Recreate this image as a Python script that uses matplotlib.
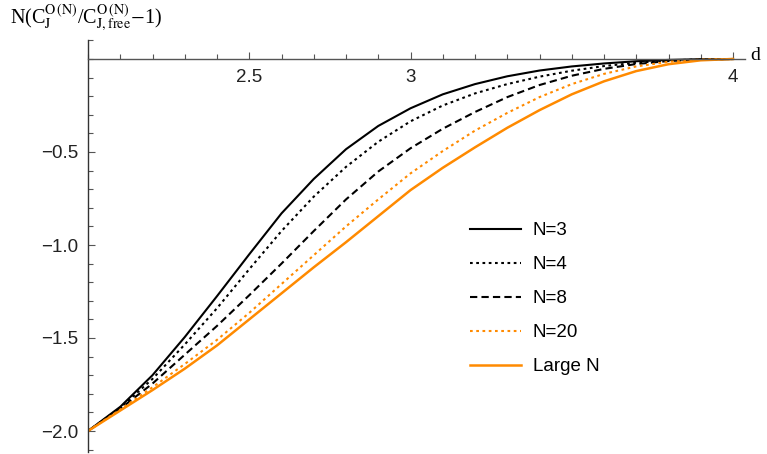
import numpy as np
import matplotlib
matplotlib.use("Agg")
import matplotlib.pyplot as plt
from matplotlib.ticker import MultipleLocator, FixedLocator, FixedFormatter

# values
d = [2.0, 2.1, 2.2, 2.3, 2.4, 2.5, 2.6, 2.7, 2.8, 2.9, 3.0,
     3.1, 3.2, 3.3, 3.4, 3.5, 3.6, 3.7, 3.8, 3.9, 4.0]
n3 = [-2.0, -1.87, -1.70, -1.495, -1.275, -1.05, -0.83, -0.645, -0.485, -0.36, -0.265,
      -0.19, -0.135, -0.093, -0.062, -0.04, -0.024, -0.012, -0.005, -0.001, 0.0]
n4 = [-2.0, -1.875, -1.72, -1.535, -1.34, -1.13, -0.925, -0.74, -0.58, -0.445, -0.335,
      -0.25, -0.185, -0.135, -0.095, -0.063, -0.038, -0.02, -0.008, -0.002, 0.0]
n8 = [-2.0, -1.88, -1.745, -1.59, -1.435, -1.27, -1.10, -0.925, -0.755, -0.605, -0.48,
      -0.375, -0.285, -0.205, -0.14, -0.09, -0.053, -0.027, -0.011, -0.003, 0.0]
n20 = [-2.0, -1.885, -1.765, -1.64, -1.51, -1.365, -1.21, -1.055, -0.90, -0.755, -0.615,
       -0.495, -0.385, -0.29, -0.205, -0.135, -0.08, -0.04, -0.015, -0.003, 0.0]
large = [-2.0, -1.89, -1.78, -1.665, -1.54, -1.40, -1.26, -1.12, -0.985, -0.845, -0.705,
         -0.585, -0.475, -0.37, -0.275, -0.19, -0.12, -0.065, -0.028, -0.007, 0.0]

labels = ["N=3", "N=4", "N=8", "N=20", "Large N"]
xticks = [2.5, 3.0, 4.0]
xtick_labels = ["2.5", "3", "4"]
yticks = [-2.0, -1.5, -1.0, -0.5]
ytick_labels = ["\u22122.0", "\u22121.5", "\u22121.0", "\u22120.5"]

orange = "#FF8A00"
plt.rcParams['font.family'] = ['Liberation Sans', 'DejaVu Sans']
plt.rcParams['mathtext.fontset'] = 'stix'

fig = plt.figure(figsize=(7.67, 4.54), dpi=100)
ax = fig.add_axes([88/767, 1 - 452/454, (745 - 88)/767, (452 - 40)/454])

ax.plot(d, n3, color='black', lw=1.5, label=labels[0])
ax.plot(d, n4, color='black', lw=1.5, ls=(0, (1.3, 1.7)), label=labels[1])
ax.plot(d, n8, color='black', lw=1.5, ls=(0, (3.5, 2.0)), label=labels[2])
ax.plot(d, n20, color=orange, lw=1.5, ls=(0, (1.3, 1.7)), label=labels[3])
ax.plot(d, large, color=orange, lw=1.8, label=labels[4])

ax.set_xlim(2.0, 2.0 + (745 - 88)/322.5)
ax.set_ylim(-(452 - 59)/186, (59 - 40)/186)

ax.spines['top'].set_visible(False)
ax.spines['right'].set_visible(False)
ax.spines['bottom'].set_position(('data', 0))
ax.spines['bottom'].set_color('#555555')
ax.spines['left'].set_color('#333333')
ax.spines['bottom'].set_linewidth(1.0)
ax.spines['left'].set_linewidth(1.0)

ax.xaxis.set_major_locator(FixedLocator(xticks))
ax.xaxis.set_major_formatter(FixedFormatter(xtick_labels))
ax.xaxis.set_minor_locator(MultipleLocator(0.1))
ax.yaxis.set_major_locator(FixedLocator(yticks))
ax.yaxis.set_major_formatter(FixedFormatter(ytick_labels))
ax.yaxis.set_minor_locator(MultipleLocator(0.1))

ax.tick_params(axis='x', which='both', direction='in', color='#555555',
               labelsize=13.5, labelcolor='#222222', pad=7)
ax.tick_params(axis='y', which='both', direction='in', color='#555555',
               labelsize=13.5, labelcolor='#222222', pad=7)
ax.tick_params(which='major', length=5, width=0.8)
ax.tick_params(which='minor', length=3.5, width=0.8)

fig.text(10/767, 1 - 18/454,
         r"N(C$_{\mathrm{J}}^{\mathrm{O\,(N)}}$/C$_{\mathrm{J,free}}^{\mathrm{O\,(N)}}$$-$1)",
         family='Liberation Serif', fontsize=14.5, va='center', ha='left')
fig.text(750/767, 1 - 55/454, "d", family='Liberation Serif', fontsize=14,
         va='center', ha='left')

ax.legend(loc='upper left', bbox_to_anchor=(470/767, 1 - 222/454),
          bbox_transform=fig.transFigure, frameon=False, fontsize=13.5,
          handlelength=2.72, handletextpad=0.64, labelspacing=0.9,
          borderpad=0, borderaxespad=0)

fig.savefig("out.png", dpi=100)
